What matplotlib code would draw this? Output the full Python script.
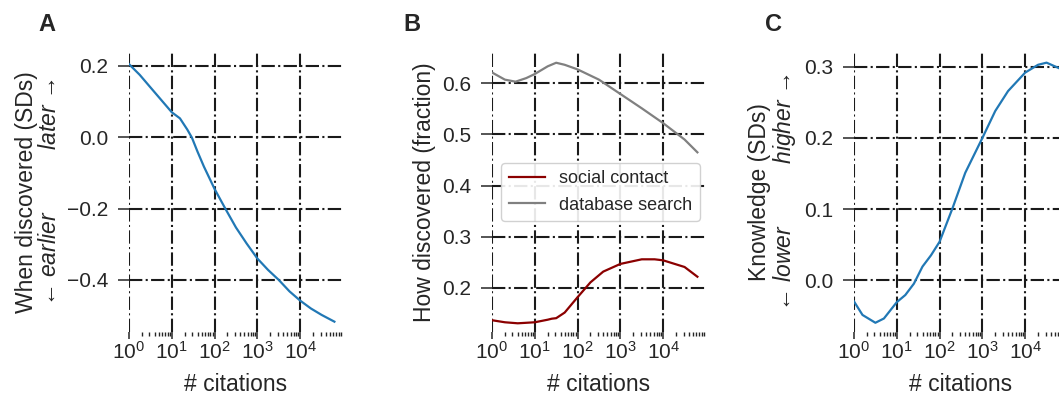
import matplotlib

matplotlib.use("Agg")

import matplotlib.pyplot as plt
from matplotlib.ticker import LogLocator, NullFormatter

# ---- data ----
# panel A: when discovered vs citations
cites_a = [1, 1.78, 3.16, 5.62, 10, 15.5, 22.9, 29.5, 39.8, 56.2, 100, 178, 316, 562,
           1000, 1778, 3162, 5623, 10000, 17780, 31620, 63100]
when_sds = [0.205, 0.175, 0.140, 0.105, 0.070, 0.053, 0.022, -0.001, -0.040, -0.082,
            -0.145, -0.200, -0.253, -0.298, -0.340, -0.372, -0.400, -0.432, -0.458,
            -0.480, -0.498, -0.517]

# panel B: how discovered vs citations
cites_b = [1, 2, 3.55, 6.3, 10, 20, 31.6, 50, 100, 316, 1000, 3162, 10000, 31620, 63100]
database_search = [0.621, 0.607, 0.603, 0.610, 0.618, 0.633, 0.640, 0.636, 0.627, 0.607,
                   0.579, 0.551, 0.522, 0.490, 0.465]
cites_s = [1, 2, 4, 10, 20, 25, 31.6, 50, 100, 200, 398, 1000, 3162, 6310, 10000, 31620, 63100]
social_contact = [0.137, 0.133, 0.131, 0.133, 0.138, 0.140, 0.141, 0.152, 0.182, 0.211,
                  0.232, 0.247, 0.256, 0.256, 0.254, 0.241, 0.222]

# panel C: knowledge vs citations
cites_c = [1, 1.58, 3.16, 5, 10, 15.8, 25.1, 39.8, 63.1, 100, 200, 398, 1000, 2000, 3981,
           10000, 20000, 31620, 44700, 63100]
knowledge_sds = [-0.030, -0.049, -0.060, -0.054, -0.031, -0.021, -0.005, 0.019, 0.035,
                 0.054, 0.101, 0.151, 0.200, 0.238, 0.266, 0.292, 0.303, 0.306, 0.302,
                 0.298]

INK = "#262626"
BLUE = "#2178b5"

plt.rcParams.update({
    "font.family": ["Liberation Sans", "DejaVu Sans"],
    "font.size": 15,
    "axes.labelsize": 16.5,
    "mathtext.fontset": "custom",
    "mathtext.rm": "Liberation Sans",
    "mathtext.it": "Liberation Sans:italic",
    "mathtext.bf": "Liberation Sans:bold",
    "text.color": INK,
    "axes.labelcolor": INK,
    "xtick.color": INK,
    "ytick.color": INK,
})


def style_axis(ax, ylim, yticks):
    ax.set_xscale("log")
    ax.set_xlim(1, 9.5e4)
    ax.set_ylim(*ylim)
    ax.set_yticks(yticks)
    ax.set_yticklabels([f"{t:.1f}".replace("-", "\u2212") for t in yticks])
    ax.xaxis.set_major_locator(LogLocator(base=10, numticks=10))
    ax.xaxis.set_minor_locator(LogLocator(base=10, subs=range(2, 10), numticks=10))
    ax.xaxis.set_minor_formatter(NullFormatter())
    for side in ax.spines.values():
        side.set_visible(False)
    ax.tick_params(axis="x", which="major", length=5, width=1.1, pad=1.5)
    ax.tick_params(axis="x", which="minor", length=3, width=1.0)
    ax.tick_params(axis="y", which="major", length=8, width=1.1, pad=7)
    ax.grid(True, which="major", color="#1a1a1a", linestyle="-.", linewidth=1.5)
    ax.set_axisbelow(True)
    ax.set_xlabel("# citations", labelpad=7)


fig = plt.figure(figsize=(10.59, 3.97), dpi=100)
bottom, height, width = 1 - 332 / 397, 280 / 397, 213 / 1059

ax_a = fig.add_axes([129 / 1059, bottom, width, height])
ax_a.plot(cites_a, when_sds, color=BLUE, lw=1.6)
style_axis(ax_a, (-0.546, 0.239), [-0.4, -0.2, 0.0, 0.2])
ax_a.set_ylabel("When discovered (SDs)\n\u2190 $\\mathit{earlier}$          "
                "$\\mathit{later}$ \u2192", linespacing=1.0, labelpad=4)

ax_b = fig.add_axes([492 / 1059, bottom, width, height])
ax_b.plot(cites_s, social_contact, color="#8b0000", lw=1.6, label="social contact")
ax_b.plot(cites_b, database_search, color="#808080", lw=1.6, label="database search")
style_axis(ax_b, (0.114, 0.661), [0.2, 0.3, 0.4, 0.5, 0.6])
ax_b.set_ylabel("How discovered (fraction)", labelpad=4)
leg = ax_b.legend(loc="center right", fontsize=13, framealpha=0.9,
                  edgecolor="#cccccc", borderaxespad=0.3)

ax_c = fig.add_axes([854 / 1059, bottom, width, height])
ax_c.plot(cites_c, knowledge_sds, color=BLUE, lw=1.6)
style_axis(ax_c, (-0.073, 0.321), [0.0, 0.1, 0.2, 0.3])
ax_c.set_ylabel("Knowledge (SDs)\n\u2190 $\\mathit{lower}$          "
                "$\\mathit{higher}$ \u2192", linespacing=1.0, labelpad=4)

for x, letter in [(38, "A"), (403, "B"), (765, "C")]:
    fig.text(x / 1059, 1 - 31 / 397, letter, fontsize=17, fontweight="bold",
             ha="left", va="baseline")

fig.savefig("out.png", dpi=100)
